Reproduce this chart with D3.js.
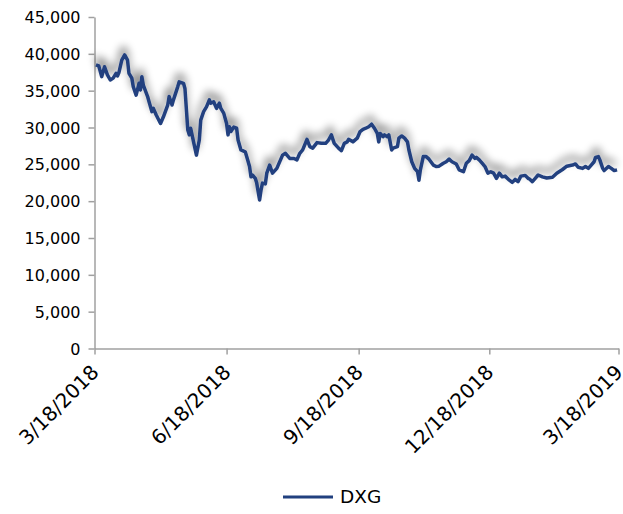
<!DOCTYPE html>
<html><head><meta charset="utf-8">
<script src="https://cdn.jsdelivr.net/npm/d3@7"></script>
<style>
html,body{margin:0;padding:0;background:#fff;}
svg text{font-family:"DejaVu Sans",Verdana,sans-serif;fill:#000;}
</style></head>
<body><svg id="c" width="623" height="514"></svg>
<script>
const seriesName = "DXG";
const dates = ["3/19/2018","3/21/2018","3/23/2018","3/25/2018","3/27/2018","3/29/2018","3/31/2018","4/2/2018","4/3/2018","4/4/2018","4/6/2018","4/8/2018","4/10/2018","4/11/2018","4/13/2018","4/14/2018","4/16/2018","4/18/2018","4/19/2018","4/20/2018","4/21/2018","4/24/2018","4/25/2018","4/27/2018","4/28/2018","4/30/2018","5/3/2018","5/5/2018","5/8/2018","5/9/2018","5/11/2018","5/12/2018","5/15/2018","5/16/2018","5/19/2018","5/20/2018","5/22/2018","5/23/2018","5/24/2018","5/26/2018","5/28/2018","5/30/2018","5/31/2018","6/2/2018","6/4/2018","6/6/2018","6/7/2018","6/9/2018","6/11/2018","6/13/2018","6/14/2018","6/16/2018","6/18/2018","6/19/2018","6/20/2018","6/21/2018","6/23/2018","6/25/2018","6/26/2018","6/28/2018","7/1/2018","7/2/2018","7/4/2018","7/5/2018","7/6/2018","7/8/2018","7/9/2018","7/11/2018","7/12/2018","7/13/2018","7/15/2018","7/16/2018","7/18/2018","7/20/2018","7/23/2018","7/27/2018","7/29/2018","8/1/2018","8/4/2018","8/6/2018","8/8/2018","8/10/2018","8/13/2018","8/15/2018","8/17/2018","8/20/2018","8/23/2018","8/26/2018","8/28/2018","8/30/2018","9/1/2018","9/4/2018","9/6/2018","9/8/2018","9/10/2018","9/11/2018","9/14/2018","9/17/2018","9/19/2018","9/21/2018","9/23/2018","9/25/2018","9/27/2018","9/29/2018","10/1/2018","10/2/2018","10/3/2018","10/5/2018","10/6/2018","10/8/2018","10/9/2018","10/11/2018","10/12/2018","10/15/2018","10/16/2018","10/18/2018","10/20/2018","10/22/2018","10/23/2018","10/25/2018","10/27/2018","10/29/2018","10/30/2018","10/31/2018","11/2/2018","11/4/2018","11/6/2018","11/9/2018","11/11/2018","11/13/2018","11/16/2018","11/18/2018","11/20/2018","11/22/2018","11/24/2018","11/25/2018","11/27/2018","11/30/2018","12/2/2018","12/4/2018","12/6/2018","12/8/2018","12/9/2018","12/11/2018","12/13/2018","12/15/2018","12/17/2018","12/19/2018","12/21/2018","12/23/2018","12/25/2018","12/27/2018","12/29/2018","1/1/2019","1/3/2019","1/5/2019","1/7/2019","1/9/2019","1/12/2019","1/14/2019","1/15/2019","1/17/2019","1/19/2019","1/21/2019","1/24/2019","1/27/2019","1/31/2019","2/3/2019","2/7/2019","2/10/2019","2/14/2019","2/16/2019","2/18/2019","2/21/2019","2/23/2019","2/25/2019","2/27/2019","3/1/2019","3/2/2019","3/4/2019","3/5/2019","3/7/2019","3/8/2019","3/11/2019","3/13/2019","3/15/2019","3/17/2019"];
const values = [38500,38350,36900,38250,37150,36450,36700,37350,37000,37450,39150,39850,39150,37350,36700,35550,34400,36000,35100,36900,35750,34200,33500,32150,32600,31700,30550,31450,33050,34200,33050,33750,35550,36200,36000,35300,29650,29000,29900,28050,26250,28300,31000,32150,32800,33750,33300,33500,32600,33300,32600,31950,30550,29000,30100,29450,30050,29900,28300,26950,26700,26050,24700,23300,23550,23100,22450,20150,21500,22450,22350,23800,24900,23800,24450,26250,26500,25800,25800,25600,26500,26950,28400,27400,27200,27950,27850,27850,28300,29000,27850,27200,26850,27850,28050,28400,28050,28550,29450,29750,29900,30100,30450,29900,29200,28050,29200,28750,29000,28750,29000,26950,27200,27400,28550,28850,28550,28050,26950,25350,24450,24000,22850,24250,26050,26050,25700,24900,24700,24750,25150,25350,25700,25350,25150,25050,24250,24000,25150,25500,26250,25800,25950,25600,25150,24700,23800,24000,23800,23100,23800,23300,23400,22850,22550,22950,22650,23400,23500,23100,23000,22650,23100,23550,23300,23150,23250,23800,24300,24750,24900,25050,24600,24450,24700,24450,24900,25350,25950,26050,25600,24450,24150,24700,24450,24150,24250];
const xTickLabels = ["3/18/2018","6/18/2018","9/18/2018","12/18/2018","3/18/2019"];
const yTicks = [0,5000,10000,15000,20000,25000,30000,35000,40000,45000];

(function(){
const parse = d3.timeParse("%m/%d/%Y");
const fmtX = d3.timeFormat("%-m/%-d/%Y");
const data = dates.map((d,i)=>({date:parse(d), value:values[i]}));
const xTicks = xTickLabels.map(parse);

const svg = d3.select("#c");
const mL = 94.5, mR = 618.5, mT = 17, mB = 348.5;
const x = d3.scaleTime().domain([xTicks[0], xTicks[xTicks.length-1]]).range([mL, mR]);
const y = d3.scaleLinear().domain([0,45000]).range([mB, mT]);

const defs = svg.append("defs");
const f = defs.append("filter").attr("id","sh").attr("x","-10%").attr("y","-40%").attr("width","120%").attr("height","180%");
f.append("feGaussianBlur").attr("in","SourceAlpha").attr("stdDeviation",4).attr("result","b");
f.append("feOffset").attr("in","b").attr("dx",-1).attr("dy",-7).attr("result","o");
f.append("feComponentTransfer").attr("in","o").attr("result","o2").append("feFuncA").attr("type","linear").attr("slope",0.55);
const m = f.append("feMerge");
m.append("feMergeNode").attr("in","o2");
m.append("feMergeNode").attr("in","SourceGraphic");

const axisColor = "#a0a0a0";
const yAxis = svg.append("g").attr("transform",`translate(${mL},0)`)
  .call(d3.axisLeft(y).tickValues(yTicks).tickSize(6).tickSizeOuter(0).tickPadding(8).tickFormat(d3.format(",")));
const xAxis = svg.append("g").attr("transform",`translate(0,${mB})`)
  .call(d3.axisBottom(x).tickValues(xTicks).tickSize(6).tickSizeOuter(0).tickFormat(fmtX));
[yAxis,xAxis].forEach(g=>{
  g.select(".domain").attr("stroke",axisColor).attr("stroke-width",1.5);
  g.selectAll(".tick line").attr("stroke",axisColor).attr("stroke-width",1.5);
  g.selectAll("text").attr("fill","#000");
});
yAxis.selectAll("text").attr("font-size",16).attr("dy","0.35em");
xAxis.selectAll("text")
  .attr("font-size",20)
  .attr("text-anchor","end")
  .attr("dy",0).attr("y",0)
  .attr("transform","translate(5,25) rotate(-45)");

const line = d3.line().x(d=>x(d.date)).y(d=>y(d.value)).curve(d3.curveLinear);
svg.append("path").datum(data).attr("d",line)
  .attr("fill","none").attr("stroke","#21407f").attr("stroke-width",3.5)
  .attr("stroke-linejoin","round").attr("filter","url(#sh)");

const lg = svg.append("g").attr("transform","translate(283,497)");
lg.append("line").attr("x1",0).attr("x2",50).attr("y1",0).attr("y2",0).attr("stroke","#21407f").attr("stroke-width",3);
lg.append("text").attr("x",57).attr("y",0).attr("dy","0.35em").attr("font-size",18.5).text(seriesName);
})();
</script></body></html>
